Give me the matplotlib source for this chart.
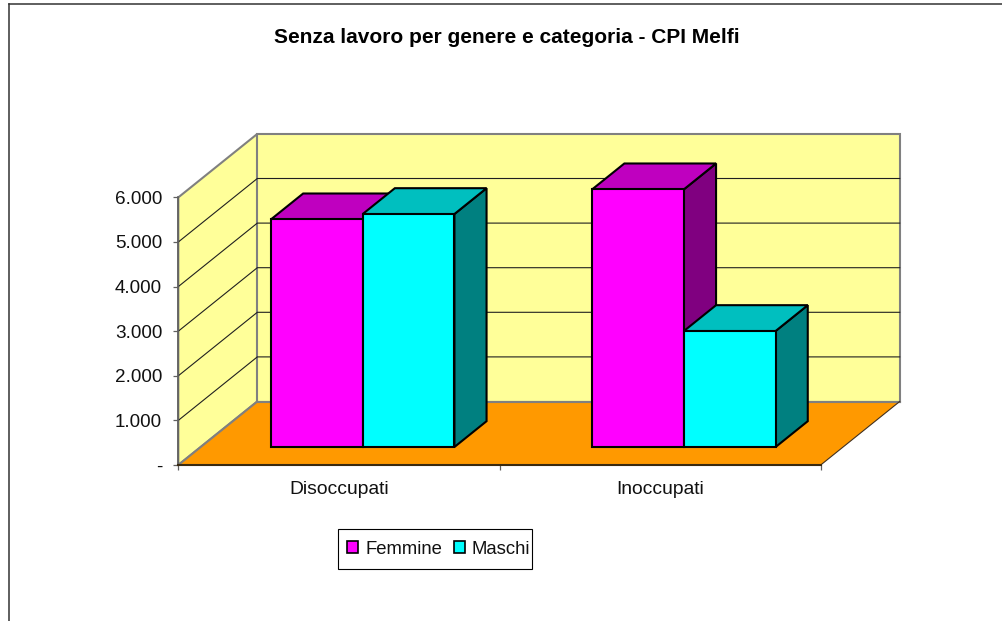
import matplotlib
matplotlib.use("Agg")
import matplotlib.pyplot as plt
from matplotlib.patches import Polygon, Patch, Rectangle
from matplotlib.lines import Line2D
from matplotlib.ticker import FixedLocator, FixedFormatter

plt.rcParams['font.family'] = ['Liberation Sans', 'DejaVu Sans']

# ---- data ----
categories = ["Disoccupati", "Inoccupati"]
femmine = [5105, 5778]
maschi = [5224, 2601]
value_ticks = [0, 1000, 2000, 3000, 4000, 5000, 6000]
value_labels = ["-", "1.000", "2.000", "3.000", "4.000", "5.000", "6.000"]
series_names = ["Femmine", "Maschi"]
title = "Senza lavoro per genere e categoria - CPI Melfi"

# ---- style ----
W, H = 1002, 621
wall_c, floor_c = "#FFFF99", "#FF9900"
f_cols = ("#FF00FF", "#BF00BF", "#800080")
m_cols = ("#00FFFF", "#00BFBF", "#008080")
DEPTH_X = 79 / 321.2      # category units per full depth
DEPTH_Y = 63.5 / 44.6 * 1000  # value units per full depth
BAR_W = 0.2855
BAR_D0, BAR_D1 = 0.283, 0.69
SHIFT = 0.0045

fig = plt.figure(figsize=(W / 100, H / 100), dpi=100, facecolor="white")
x0, x1, ytop, ybot = 178.3, 820.7, 197.4, 465.0
ax = fig.add_axes([x0 / W, 1 - ybot / H, (x1 - x0) / W, (ybot - ytop) / H])
ax.set_xlim(0, 2)
ax.set_ylim(0, 6000)
ax.patch.set_alpha(0)


def pt(x, v, d=0.0):
    """Oblique projection of (category x, value v, depth d) to axes data."""
    return (x + d * DEPTH_X, v + d * DEPTH_Y)


def face(points, color, z, ec="black", lw=1.5):
    ax.add_patch(Polygon([pt(*p) for p in points], closed=True, fc=color, ec=ec,
                         lw=lw, zorder=z, clip_on=False, joinstyle="miter"))


# walls and floor
gray = "#808080"
vmax = value_ticks[-1]
face([(0, 0, 0), (0, vmax, 0), (0, vmax, 1), (0, 0, 1)], wall_c, 1, gray, 1.5)
face([(0, 0, 1), (0, vmax, 1), (2, vmax, 1), (2, 0, 1)], wall_c, 1, gray, 1.5)
face([(0, 0, 0), (2, 0, 0), (2, 0, 1), (0, 0, 1)], floor_c, 1.1, "none", 0)
for a, b, c, lw in [((0, 0, 0), (0, 0, 1), gray, 1.5),
                    ((0, 0, 1), (2, 0, 1), gray, 1.5),
                    ((2, 0, 0), (2, 0, 1), "#403020", 0.8)]:
    pa, pb = pt(*a), pt(*b)
    ax.add_line(Line2D([pa[0], pb[0]], [pa[1], pb[1]], color=c, lw=lw,
                       zorder=1.2, clip_on=False))

# gridlines
for v in value_ticks[1:-1]:
    p = [pt(0, v, 0), pt(0, v, 1), pt(2, v, 1)]
    ax.add_line(Line2D([q[0] for q in p], [q[1] for q in p], color="#202020",
                       lw=0.8, zorder=1.3, clip_on=False))


def bar(xleft, v, cols, z):
    xr = xleft + BAR_W
    d0, d1 = BAR_D0, BAR_D1
    face([(xr, 0, d0), (xr, v, d0), (xr, v, d1), (xr, 0, d1)], cols[2], z)
    face([(xleft, v, d0), (xr, v, d0), (xr, v, d1), (xleft, v, d1)], cols[1], z + 0.01)
    face([(xleft, 0, d0), (xr, 0, d0), (xr, v, d0), (xleft, v, d0)], cols[0], z + 0.02)


for i in range(len(categories)):
    c = i + 0.5 + SHIFT
    bar(c - BAR_W, femmine[i], f_cols, 2 + i)
    bar(c, maschi[i], m_cols, 2.1 + i)

# axes
for s in ("top", "right"):
    ax.spines[s].set_visible(False)
ax.spines["left"].set_color("#606060")
ax.spines["left"].set_linewidth(1.2)
ax.spines["bottom"].set_color("#3A2A10")
ax.spines["bottom"].set_linewidth(1.5)

ax.yaxis.set_major_locator(FixedLocator(value_ticks))
ax.yaxis.set_major_formatter(FixedFormatter(value_labels))
ax.tick_params(axis="y", length=3.6, width=0.9, color="#606060", pad=8,
               labelsize=13.6, labelcolor="#111111")
ax.xaxis.set_major_locator(FixedLocator([0, 1, 2]))
ax.xaxis.set_major_formatter(FixedFormatter(["", "", ""]))
ax.xaxis.set_minor_locator(FixedLocator([i + 0.5 for i in range(len(categories))]))
ax.xaxis.set_minor_formatter(FixedFormatter(categories))
ax.tick_params(axis="x", which="major", length=3.6, width=0.9, color="#606060")
ax.tick_params(axis="x", which="minor", length=0, pad=11.6, labelsize=13.9,
               labelcolor="#111111")

# title
fig.text(506.5 / W, 1 - 37.5 / H, title, ha="center", va="center",
         fontsize=15.05, fontweight="bold", color="black")

# legend box and entries
fig.add_artist(Rectangle((338.3 / W, 1 - 568.5 / H), 194 / W, 39.5 / H,
                         transform=fig.transFigure, fc="white", ec="black", lw=0.8))
handles = [Patch(fc=f_cols[0], ec="black", lw=1.2), Patch(fc=m_cols[0], ec="black", lw=1.2)]
leg = fig.legend(handles, series_names, loc="center left",
                 bbox_to_anchor=(346.7 / W, 1 - 549.3 / H), ncol=2, fontsize=13.3,
                 frameon=False, handlelength=0.62, handleheight=0.62, handletextpad=0.38,
                 columnspacing=0.62, borderpad=0, borderaxespad=0,
                 labelcolor="#111111")

# outer chart frame (runs off the right and bottom of the picture)
frame_c = "#333333"
fig.add_artist(Line2D([8.5 / W, 1], [1 - 4 / H, 1 - 4 / H], color=frame_c, lw=1.1))
fig.add_artist(Line2D([8.5 / W, 8.5 / W], [1 - 4 / H, 0], color=frame_c, lw=1.1))

fig.savefig("out.png", dpi=100, facecolor="white")
